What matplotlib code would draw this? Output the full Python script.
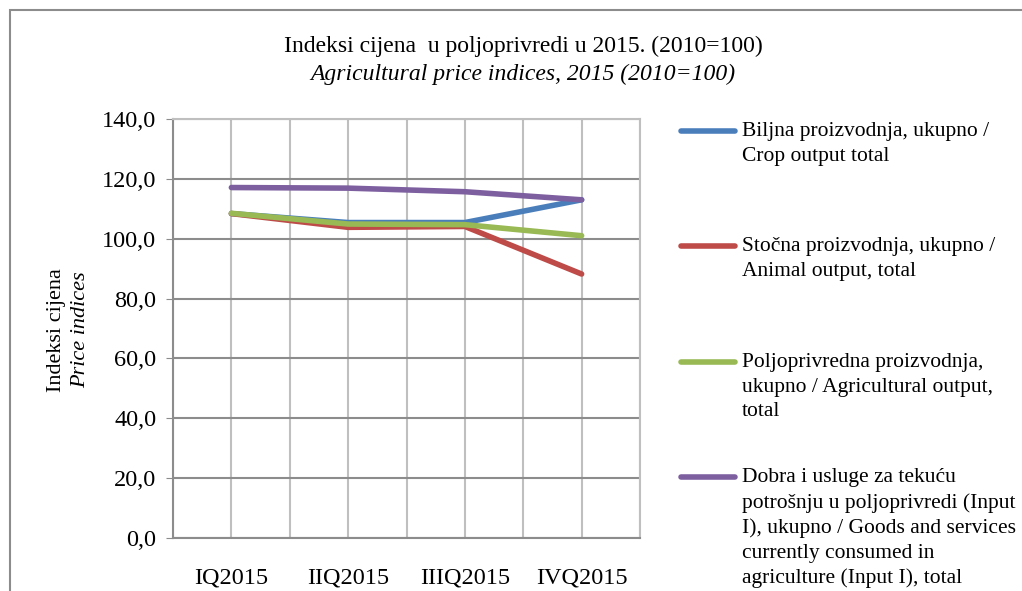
import matplotlib.pyplot as plt
from matplotlib.lines import Line2D
from matplotlib.patches import Rectangle

plt.rcParams['font.family'] = ['Liberation Serif', 'DejaVu Serif']

quarters = ['IQ2015', 'IIQ2015', 'IIIQ2015', 'IVQ2015']
crop = [108.4, 105.4, 105.4, 113.0]
animal = [108.4, 103.8, 104.1, 88.2]
agri = [108.5, 104.9, 104.7, 101.0]
inputs = [117.1, 116.9, 115.7, 113.0]

labels = [
    'Biljna proizvodnja, ukupno /\nCrop output total',
    'Stočna proizvodnja, ukupno /\nAnimal output, total',
    'Poljoprivredna proizvodnja,\nukupno / Agricultural output,\ntotal',
    'Dobra i usluge za tekuću\npotrošnju u poljoprivredi (Input\nI), ukupno / Goods and services\ncurrently consumed in\nagriculture (Input I), total',
]
colors = ['#4a7ebb', '#be4b48', '#98b954', '#7d5fa0']
series = [crop, animal, agri, inputs]

fig = plt.figure(figsize=(10.22, 5.91), dpi=100)
fig.patches.append(Rectangle((10 / 1022, -0.2), 1.2, 1 - 10 / 591 + 0.2,
                             transform=fig.transFigure, fill=False,
                             edgecolor='#8c8c8c', linewidth=1.5))

ax = fig.add_axes([173 / 1022, 53 / 591, (640 - 173) / 1022, (538 - 119) / 591])
x = range(len(quarters))
for s, c in zip(series, colors):
    ax.plot(x, s, color=c, linewidth=4, solid_capstyle='round', zorder=3)

ax.set_xlim(-0.5, 3.5)
ax.set_ylim(0, 140)
ax.set_yticks(range(0, 141, 20))
ax.set_yticklabels([f'{v},0' for v in range(0, 141, 20)], fontsize=17.5)
ax.set_xticks(list(x))
ax.set_xticklabels(quarters, fontsize=17.5)
ax.set_xticks([-0.5 + i for i in range(5)], minor=True)
ax.tick_params(axis='x', which='both', length=0, pad=21)
ax.tick_params(axis='y', length=5, color='#8c8c8c', pad=7)
ax.grid(True, which='both', axis='x', color='#bfbfbf', linewidth=1.5)
ax.grid(True, which='major', axis='y', color='#8c8c8c', linewidth=1.5)
for sp in ax.spines.values():
    sp.set_color('#bfbfbf')
    sp.set_linewidth(1.5)
ax.spines['left'].set_color('#8c8c8c')
ax.spines['bottom'].set_color('#8c8c8c')
ax.set_axisbelow(True)

fig.text(0.5 + 0.012, 1 - 46 / 591, 'Indeksi cijena  u poljoprivredi u 2015. (2010=100)',
         ha='center', va='center', fontsize=17)
fig.text(0.5 + 0.012, 1 - 74 / 591, 'Agricultural price indices, 2015 (2010=100)',
         ha='center', va='center', fontsize=17, style='italic')

fig.text(56 / 1022, 1 - 330 / 591, 'Indeksi cijena', rotation=90,
         ha='center', va='center', fontsize=16)
fig.text(81 / 1022, 1 - 330 / 591, 'Price indices', rotation=90,
         ha='center', va='center', fontsize=16, style='italic')

leg_y = [131, 246, 362, 477]
for lab, c, y in zip(labels, colors, leg_y):
    fig.lines.append(Line2D([681 / 1022, 735 / 1022], [1 - y / 591, 1 - y / 591],
                            transform=fig.transFigure, color=c, linewidth=4,
                            solid_capstyle='round'))
    fig.text(742 / 1022, 1 - (y - 9) / 591, lab, ha='left', va='top',
             fontsize=15.5, linespacing=1.4)

fig.savefig('out.png', dpi=100)
